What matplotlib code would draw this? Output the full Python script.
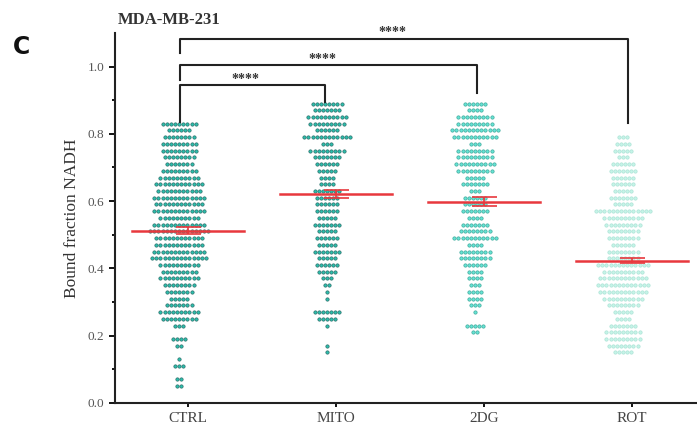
import numpy as np
import matplotlib
matplotlib.use("Agg")
import matplotlib.pyplot as plt

groups = ["CTRL", "MITO", "2DG", "ROT"]
row_centers = np.round(np.arange(0.05, 0.90, 0.02), 2)

ctrl = [2, 2, 0, 3, 1, 0, 2, 4, 0, 3, 9, 10, 7, 5, 7, 8, 10, 9, 10, 14,
        13, 12, 12, 15, 13, 10, 13, 12, 13, 11, 12, 10, 9, 7, 8, 9, 9, 8, 6, 9,
        0, 0, 0]
mito = [0, 0, 0, 0, 0, 1, 1, 0, 0, 1, 5, 7, 0, 1, 1, 2, 3, 5, 6, 5,
        7, 5, 6, 5, 7, 5, 6, 6, 6, 7, 4, 4, 5, 6, 7, 9, 3, 12, 6, 9,
        10, 7, 8]
dg = [0, 0, 0, 0, 0, 0, 0, 0, 2, 5, 0, 1, 3, 4, 4, 3, 4, 4, 6, 8,
      8, 4, 11, 8, 7, 4, 7, 6, 6, 3, 7, 5, 9, 10, 9, 9, 3, 11, 12, 9,
      9, 4, 6]
rot = [0, 0, 0, 0, 0, 5, 8, 9, 9, 7, 4, 5, 8, 10, 12, 13, 12, 10, 13, 8,
       8, 6, 8, 8, 9, 10, 14, 5, 7, 5, 6, 6, 7, 6, 3, 5, 4, 3, 0, 0,
       0, 0, 0]
counts = [ctrl, mito, dg, rot]

means = [0.512, 0.622, 0.598, 0.423]
sems = [0.010, 0.012, 0.013, 0.008]

# significance brackets: (left group, right group, bar height, left leg, right leg)
brackets = [(0, 1, 0.946, 0.835, 0.896),
            (0, 2, 1.006, 0.960, 0.920),
            (0, 3, 1.083, 1.040, 0.833)]
stars = "****"

face = ["#2cbfad", "#2cbfad", "#66e4d5", "#c6f4e8"]
edge = ["#2b6f69", "#2b6f69", "#40a99c", "#abe3d6"]

fig = plt.figure(figsize=(6.97, 4.37), dpi=100)
ax = fig.add_axes([0.165, 0.078, 0.835, 0.8467])

swarm_x = [0.946, 1.926, 2.953, 3.973]
swarm_shift = -0.06
step = 0.028

for i, c in enumerate(counts):
    vals = np.repeat(row_centers, c)
    xs = []
    for n in c:
        xs.extend((np.arange(n) - (n - 1) / 2) * step)
    xs = np.array(xs) + i + 1 + swarm_shift
    ax.plot(xs, vals, 'o', ms=2.4, mfc=face[i], mec=edge[i], mew=0.5,
            linestyle='none', zorder=2)

# mean lines and SEM
for i, (m, s) in enumerate(zip(means, sems)):
    p = i + 1
    ax.plot([p - 0.38, p + 0.38], [m, m], color="#e8383d", lw=1.8, zorder=3)
    ax.errorbar(p, m, yerr=s, color="#e8383d", lw=1.2, capsize=9,
                capthick=1.2, zorder=3)

# brackets
star_pos = [(1.385, 0.962), (1.912, 1.022), (2.385, 1.102)]
for (a, b, top, la, lb), (sx, sy) in zip(brackets, star_pos):
    xa, xb = swarm_x[a], swarm_x[b]
    ax.plot([xa, xa, xb, xb], [la, top, top, lb], color="#222222", lw=1.5,
            clip_on=False, zorder=4)
    ax.text(sx, sy, stars, ha='center', va='center', fontsize=10,
            family='Liberation Serif', fontweight='bold', color="#333333",
            clip_on=False)

ax.set_xlim(0.507, 4.44)
ax.set_ylim(0, 1.1)
ax.set_xticks([1, 2, 3, 4])
ax.set_xticklabels(groups, family='Liberation Serif', fontsize=11,
                   color="#444444")
ax.set_yticks([0, 0.2, 0.4, 0.6, 0.8, 1.0])
ax.set_yticklabels(["0.0", "0.2", "0.4", "0.6", "0.8", "1.0"],
                   family='Liberation Serif', fontsize=9.5, color="#555555")
ax.set_yticks(np.arange(0.1, 1.1, 0.2), minor=True)
ax.tick_params(axis='y', which='major', direction='out', length=4, width=1.3)
ax.tick_params(axis='y', which='minor', direction='out', length=2, width=1.3)
ax.tick_params(axis='x', direction='out', length=3, width=1.3)
for side in ['top', 'right']:
    ax.spines[side].set_visible(False)
for side in ['left', 'bottom']:
    ax.spines[side].set_linewidth(1.5)
    ax.spines[side].set_color("#222222")

ax.set_ylabel("Bound fraction NADH", family='Liberation Serif', fontsize=12.5,
              color="#333333", labelpad=6)

fig.text(0.243, 0.955, "MDA-MB-231", family='Liberation Serif',
         fontweight='bold', fontsize=12, ha='center', va='center',
         color="#333333")
fig.text(0.031, 0.892, "C", family='DejaVu Sans', fontweight='bold',
         fontsize=17, ha='center', va='center', color="#111111")

fig.savefig("out.png", dpi=100)
